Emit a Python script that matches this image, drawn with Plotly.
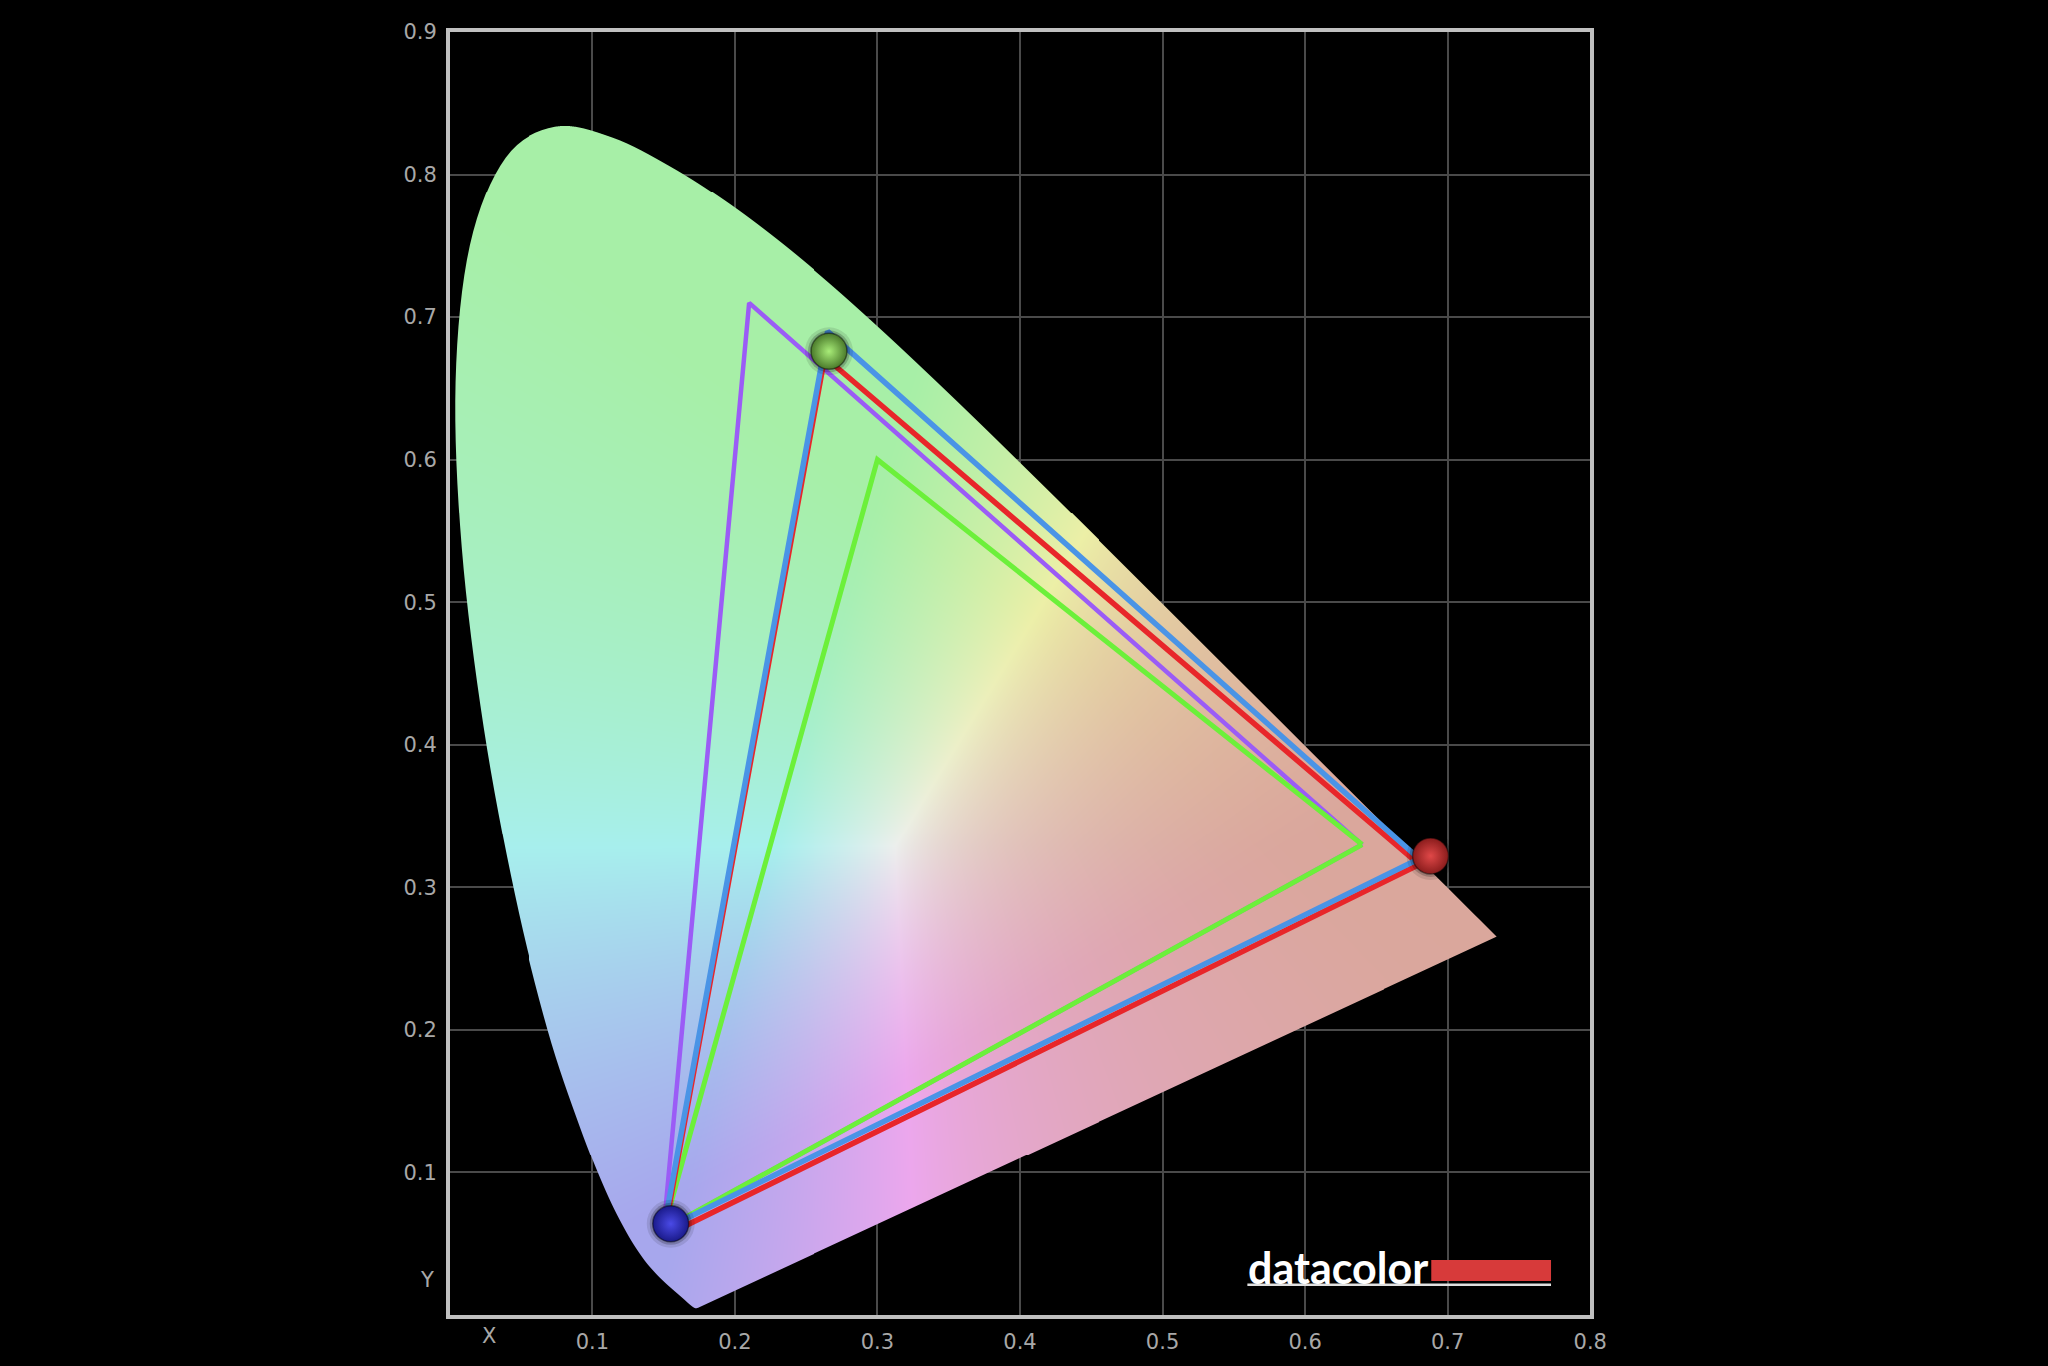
import base64
import struct
import zlib

import numpy as np
import plotly.graph_objects as go

# ---------------- data ----------------
# CIE 1931 spectral locus (380-700 nm, 5 nm steps)
locus_x = [0.1741, 0.1740, 0.1738, 0.1736, 0.1733, 0.1730, 0.1726, 0.1721, 0.1714, 0.1703,
           0.1689, 0.1669, 0.1644, 0.1611, 0.1566, 0.1510, 0.1440, 0.1355, 0.1241, 0.1096,
           0.0913, 0.0687, 0.0454, 0.0235, 0.0082, 0.0039, 0.0139, 0.0389, 0.0743, 0.1142,
           0.1547, 0.1929, 0.2296, 0.2658, 0.3016, 0.3373, 0.3731, 0.4087, 0.4441, 0.4788,
           0.5125, 0.5448, 0.5752, 0.6029, 0.6270, 0.6482, 0.6658, 0.6801, 0.6915, 0.7006,
           0.7079, 0.7140, 0.7190, 0.7230, 0.7260, 0.7283, 0.7300, 0.7311, 0.7320, 0.7327,
           0.7334, 0.7340, 0.7344, 0.7346, 0.7347]
locus_y = [0.0050, 0.0050, 0.0049, 0.0049, 0.0048, 0.0048, 0.0048, 0.0048, 0.0051, 0.0058,
           0.0069, 0.0086, 0.0109, 0.0138, 0.0177, 0.0227, 0.0297, 0.0399, 0.0578, 0.0868,
           0.1327, 0.2007, 0.2950, 0.4127, 0.5384, 0.6548, 0.7502, 0.8120, 0.8338, 0.8262,
           0.8059, 0.7816, 0.7543, 0.7243, 0.6923, 0.6589, 0.6245, 0.5896, 0.5547, 0.5202,
           0.4866, 0.4544, 0.4242, 0.3965, 0.3725, 0.3514, 0.3340, 0.3197, 0.3083, 0.2993,
           0.2920, 0.2859, 0.2809, 0.2770, 0.2740, 0.2717, 0.2700, 0.2689, 0.2680, 0.2673,
           0.2666, 0.2660, 0.2656, 0.2654, 0.2653]

# gamut triangles (R, G, B primaries)
srgb_x = [0.640, 0.300, 0.150]
srgb_y = [0.330, 0.600, 0.060]
adobe_x = [0.640, 0.210, 0.150]
adobe_y = [0.330, 0.710, 0.060]
p3_x = [0.680, 0.265, 0.150]
p3_y = [0.320, 0.690, 0.060]
measured_x = [0.680, 0.263, 0.150]
measured_y = [0.316, 0.672, 0.055]
# measured primaries as drawn (sphere markers)
sphere_x = [0.688, 0.266, 0.155]
sphere_y = [0.322, 0.676, 0.064]

x_ticks = [0.1, 0.2, 0.3, 0.4, 0.5, 0.6, 0.7, 0.8]
x_tick_text = ["0.1", "0.2", "0.3", "0.4", "0.5", "0.6", "0.7", "0.8"]
y_ticks = [0.1, 0.2, 0.3, 0.4, 0.5, 0.6, 0.7, 0.8, 0.9]
y_tick_text = ["0.1", "0.2", "0.3", "0.4", "0.5", "0.6", "0.7", "0.8", "0.9"]

# ---------------- layout geometry ----------------
W, H = 2048, 1366
ML, MR, MT, MB = 448, 456, 32, 47
NX, NY = W - ML - MR, H - MT - MB   # 1144 x 1287
XR, YR = 0.8, 0.9
dx, dy = XR / NX, YR / NY

# ---------------- chromaticity background image ----------------
# smooth outline through the locus points (Catmull-Rom), closed by the purple line
P = np.column_stack([locus_x, locus_y])
outline = []
for i in range(len(P) - 1):
    p0 = P[max(i - 1, 0)]
    p1 = P[i]
    p2 = P[i + 1]
    p3 = P[min(i + 2, len(P) - 1)]
    for t in np.linspace(0, 1, 8, endpoint=False):
        t2, t3 = t * t, t * t * t
        outline.append(0.5 * (2 * p1 + (-p0 + p2) * t + (2 * p0 - 5 * p1 + 4 * p2 - p3) * t2
                              + (-p0 + 3 * p1 - 3 * p2 + p3) * t3))
outline.append(P[-1])
outline = np.array(outline)
ox1, oy1 = outline[:, 0], outline[:, 1]
ox2, oy2 = np.roll(ox1, -1), np.roll(oy1, -1)

# coverage by scanline with 4 sub-rows and exact horizontal coverage
SS = 4
cov = np.zeros((NY, NX))
kcol = np.arange(NX, dtype=float)
for j in range(NY):
    row = np.zeros(NX)
    for s in range(SS):
        yv = (j + (s + 0.5) / SS) * dy
        c = (oy1 > yv) != (oy2 > yv)
        if not c.any():
            continue
        xc = ox1[c] + (yv - oy1[c]) * (ox2[c] - ox1[c]) / (oy2[c] - oy1[c])
        xc = np.sort(xc) / dx
        for a, b in zip(xc[0::2], xc[1::2]):
            row += np.clip(b - kcol, 0, 1) - np.clip(a - kcol, 0, 1)
    cov[j] = row / SS
alpha = np.clip(cov, 0, 1)

xs = (np.arange(NX) + 0.5) * dx
ys = (np.arange(NY) + 0.5) * dy
Xg, Yg = np.meshgrid(xs, ys)  # row 0 = bottom
yy = np.maximum(Yg, 1e-3)
Xc = Xg / yy
Zc = (1 - Xg - Yg) / yy
r = 3.2406 * Xc - 1.5372 - 0.4986 * Zc
g = -0.9689 * Xc + 1.8758 + 0.0415 * Zc
b = 0.0557 * Xc - 0.2040 + 1.0570 * Zc
rgb = np.clip(np.stack([r, g, b], axis=-1), 0, None)
m = np.maximum(rgb.max(axis=-1, keepdims=True), 1e-6)
rgb = np.power(rgb / m, 2.2)
rgb = np.where(rgb <= 0.0031308, 12.92 * rgb, 1.055 * np.power(rgb, 1 / 2.4) - 0.055)
scale = np.array([0.272, 0.285, 0.275])
pale = 0.655 + scale * rgb
redness = np.clip(rgb[..., 0] - np.maximum(rgb[..., 1], rgb[..., 2]), 0, 1)
pale[..., 0] -= 0.07 * redness
pale[..., 2] -= 0.04 * redness
img = np.zeros((NY, NX, 4), dtype=np.uint8)
img[..., :3] = np.clip(pale * 255, 0, 255).astype(np.uint8)
img[..., 3] = (alpha * 255).astype(np.uint8)


def png_data_uri(arr):
    h, w, _ = arr.shape
    raw = np.hstack([np.zeros((h, 1), dtype=np.uint8), arr.reshape(h, w * 4)]).tobytes()

    def chunk(tag, data):
        cc = struct.pack(">I", len(data)) + tag + data
        return cc + struct.pack(">I", zlib.crc32(tag + data) & 0xFFFFFFFF)

    png = b"\x89PNG\r\n\x1a\n"
    png += chunk(b"IHDR", struct.pack(">IIBBBBB", w, h, 8, 6, 0, 0, 0))
    png += chunk(b"IDAT", zlib.compress(raw, 6))
    png += chunk(b"IEND", b"")
    return "data:image/png;base64," + base64.b64encode(png).decode("ascii")


fig = go.Figure()
fig.add_trace(go.Image(source=png_data_uri(img), x0=dx / 2, dx=dx, y0=dy / 2, dy=dy,
                       hoverinfo="skip"))


def closed(a):
    return list(a) + [a[0]]


tri_styles = [
    (adobe_x, adobe_y, "#9b5cf6", 4.5),
    (srgb_x, srgb_y, "#6cf03a", 5),
    (measured_x, measured_y, "#e8262a", 5.5),
    (p3_x, p3_y, "#4a94e6", 5.5),
]
for tx, ty, col, wdt in tri_styles:
    fig.add_trace(go.Scatter(x=closed(tx), y=closed(ty), mode="lines",
                             line=dict(color=col, width=wdt), hoverinfo="skip",
                             showlegend=False))

# sphere markers
fig.add_trace(go.Scatter(x=sphere_x, y=sphere_y, mode="markers", hoverinfo="skip",
                         marker=dict(size=48, color="rgba(0,0,0,0.10)"), showlegend=False))
fig.add_trace(go.Scatter(x=sphere_x, y=sphere_y, mode="markers", hoverinfo="skip",
                         marker=dict(size=42, color="rgba(0,0,0,0.20)"), showlegend=False))
fig.add_trace(go.Scatter(
    x=sphere_x, y=sphere_y, mode="markers", hoverinfo="skip", showlegend=False,
    marker=dict(size=36, color=["#8a1c1c", "#4a7a2a", "#1a1a8a"],
                gradient=dict(type="radial", color=["#e04848", "#a8ec78", "#4a4ae6"]),
                line=dict(color="rgba(0,0,0,0.45)", width=1.5))))

# datacolor logo
fig.add_shape(type="rect", xref="x", yref="y", x0=0.6885, x1=0.7725, y0=0.0238, y1=0.0385,
              fillcolor="#d73a3a", line=dict(width=0))
fig.add_shape(type="line", xref="x", yref="y", x0=0.5595, x1=0.7725, y0=0.0212, y1=0.0212,
              line=dict(color="#e0e0e0", width=2.5))
fig.add_annotation(x=0.5585, y=0.0330, xref="x", yref="y", text="<b>datacolor</b>",
                   showarrow=False, xanchor="left", yanchor="middle",
                   font=dict(family="Lato", size=43, color="#ffffff"))

tick_font = dict(family="DejaVu Sans", size=21, color="#a8a8a8")
# axis corner labels (paper coordinates)
fig.add_annotation(x=0.029 / XR, y=-0.0145 / YR, xref="paper", yref="paper", text="X",
                   showarrow=False, xanchor="center", yanchor="middle", font=tick_font)
fig.add_annotation(x=-0.0145 / XR, y=0.0245 / YR, xref="paper", yref="paper", text="Y",
                   showarrow=False, xanchor="center", yanchor="middle", font=tick_font)

axis_common = dict(showgrid=True, gridcolor="#4a4a4a", gridwidth=2, zeroline=False,
                   showline=True, mirror=True, linecolor="#c0c0c0", linewidth=3.5,
                   ticks="outside", ticklen=5, tickcolor="rgba(0,0,0,0)",
                   tickfont=tick_font, fixedrange=True)
fig.update_xaxes(range=[0, XR], tickvals=x_ticks, ticktext=x_tick_text, **axis_common)
fig.update_yaxes(range=[0, YR], tickvals=y_ticks, ticktext=y_tick_text, **axis_common)

fig.update_layout(width=W, height=H, autosize=False,
                  margin=dict(l=ML, r=MR, t=MT, b=MB, pad=0),
                  paper_bgcolor="#000000", plot_bgcolor="#000000",
                  showlegend=False)

fig.write_html("out.html", config={"displayModeBar": False},
               post_script="document.body.style.margin='0';"
                           "document.body.style.background='#000';"
                           "document.documentElement.style.overflow='hidden';")
